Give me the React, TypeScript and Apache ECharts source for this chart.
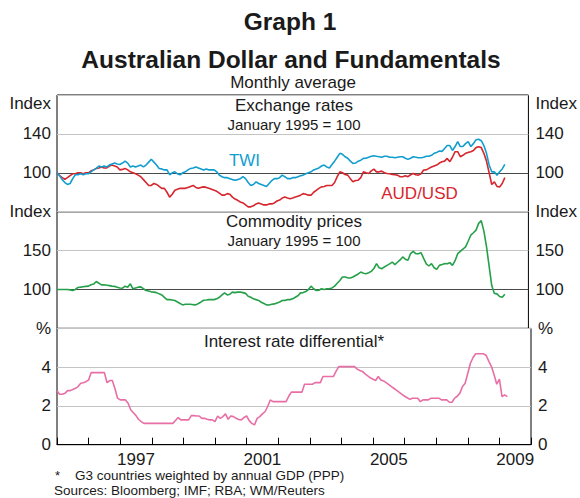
import React, { useEffect, useRef } from "react";
import * as echarts from "echarts";

const START_YEAR = 1995;

// Monthly values, Jan 1995 – Apr 2009
const twi = [
  100, 97, 93, 90, 88, 89, 94, 98, 98, 99, 98, 99,
  99, 101, 103, 104.5, 107, 106, 107, 106, 108, 109, 110, 109,
  108.6, 110, 112, 110, 106, 107, 106, 107, 108, 106, 108, 111,
  114, 111, 108, 104.5, 104, 103, 103, 98, 100, 101, 99, 98,
  100, 101, 103, 104.5, 105, 106, 105, 104, 103, 104, 103, 103,
  103, 101, 97.6, 96, 95, 95, 94, 93, 92.4, 93, 94, 96,
  94, 90, 87, 88, 90.7, 89, 88, 87, 86, 89, 92, 94,
  94, 95, 97.6, 96, 94, 94, 95, 95, 96, 97, 97.6, 99,
  100, 101, 103, 104, 105, 107, 108, 106, 105, 108.6, 112, 116,
  120, 119, 116.5, 115, 112, 109.7, 110, 112, 113, 114.8, 115, 116,
  117, 117.6, 117, 116.5, 116, 117, 117, 116, 116, 115.5, 116, 116.5,
  116.5, 115, 113.8, 115, 116.5, 116, 115.5, 115.5, 116, 117, 117, 118,
  120, 121, 122.4, 122, 125, 128, 128, 123, 127, 132, 127, 127,
  130, 132, 127, 130, 134, 134.5, 133, 128, 120, 108, 101, 101,
  97.6, 101, 104, 108.6,
];

const audUsd = [
  100, 97, 95, 93.4, 95, 97, 99, 99, 100, 100, 99, 100,
  100, 102, 103, 104.5, 105, 106, 105, 105, 107, 108, 107, 106,
  103, 103.5, 104.5, 103, 101, 100, 99, 97.6, 96, 93, 90, 87,
  87, 89, 88, 86, 84, 84, 80, 75, 78, 82, 83, 84,
  84, 84, 85, 86, 87, 85, 84, 85, 85.5, 85, 84, 83,
  82, 81, 79, 77, 77, 78.6, 78, 75, 73, 71.7, 70, 69,
  67, 65, 65, 66, 68, 69, 68, 67, 67, 68, 68, 69,
  71, 72, 74, 75, 74, 73.4, 74, 75, 76, 77, 78.6, 78,
  77, 77, 80, 82, 84, 85.5, 86, 87, 87, 87, 90, 96,
  101, 100, 98.3, 97.6, 94, 90.7, 92, 92.4, 95, 101, 100, 99.3,
  102, 103.8, 101, 101, 101.7, 100, 99.3, 99, 98.3, 98, 97.6, 96,
  96, 97, 96, 98, 99.3, 98, 97.6, 99, 102.8, 103, 104.5, 106,
  107, 108, 110, 111.4, 112, 114.8, 111.4, 116, 121.7, 121.7, 116.5, 118,
  120, 121, 121.7, 123, 125.9, 126.9, 125.9, 120, 112, 100, 88, 90.7,
  86, 85.5, 89, 95,
];

const commodity = [
  100, 100, 100, 100, 100, 99.5, 98.7, 100, 102.6, 103, 103.5, 104,
  104.3, 106, 107, 110.3, 108, 106, 106, 105.5, 105, 104.3, 104, 103,
  102, 101.7, 104.3, 103, 107.3, 100.9, 102, 103, 103.4, 101, 98.7, 98,
  97, 96.6, 96, 94.4, 93, 90, 87, 87, 86.5, 85.8, 84, 82,
  80.2, 81, 81, 81, 80.5, 80.2, 82, 84, 86.2, 86.5, 87, 87,
  87, 88, 90, 93, 95.7, 93, 94, 96.6, 96, 96.6, 96.6, 96,
  95, 91.4, 90, 88, 87, 86, 83.6, 82, 80.2, 80, 81, 81.5,
  82.8, 84, 85.8, 86, 87, 87, 88, 90, 92, 95.7, 96, 97.4,
  100, 104.3, 101, 98.7, 99, 100.9, 100, 100.9, 101, 102, 104.3, 108,
  111.6, 116, 116, 115, 114.7, 116, 118, 120, 122.4, 121, 120.3, 121.5,
  123.3, 127, 133.2, 128, 126.7, 129, 131, 133, 135.3, 131.9, 135, 138,
  141.8, 139, 137.5, 146, 149, 146, 146, 147.4, 140, 133, 130.2, 133.2,
  128, 125.9, 131, 132, 133.2, 133, 134.5, 131, 137, 146, 149, 152,
  154.7, 162, 169.8, 173, 176.3, 185, 188.5, 175, 155, 130, 105, 95,
  94.4, 91, 90, 94,
];

const interestDiff = [
  2.79, 2.6, 2.6, 2.65, 2.79, 2.79, 2.85, 2.91, 3.0, 3.17, 3.2, 3.25,
  3.34, 3.72, 3.72, 3.72, 3.72, 3.72, 3.72, 3.2, 3.31, 3.31, 2.9, 2.4,
  2.31, 2.31, 2.31, 2.14, 1.8, 1.65, 1.5, 1.3, 1.19, 1.1, 1.1, 1.1,
  1.1, 1.1, 1.1, 1.1, 1.1, 1.1, 1.1, 1.1, 1.1, 1.25, 1.4, 1.28,
  1.28, 1.28, 1.28, 1.5, 1.5, 1.48, 1.48, 1.36, 1.36, 1.31, 1.28, 1.28,
  1.19, 1.48, 1.36, 1.45, 1.59, 1.31, 1.48, 1.45, 1.36, 1.3, 1.28, 1.4,
  1.48, 1.24, 1.1, 1.02, 1.36, 1.45, 1.59, 1.7, 1.97, 2.31, 2.22, 2.22,
  2.22, 2.22, 2.22, 2.22, 2.5, 2.71, 2.71, 2.71, 2.71, 2.71, 3.12, 3.12,
  3.12, 3.12, 3.2, 3.2, 3.2, 3.52, 3.52, 3.52, 3.52, 3.52, 3.8, 4.03,
  4.03, 4.03, 4.03, 4.03, 4.03, 4.03, 3.9, 3.83, 3.78, 3.65, 3.55, 3.45,
  3.38, 3.31, 3.52, 3.34, 3.29, 3.2, 3.1, 3.0, 2.9, 2.8, 2.7, 2.6,
  2.5, 2.42, 2.34, 2.4, 2.4, 2.4, 2.22, 2.31, 2.31, 2.31, 2.4, 2.4,
  2.4, 2.4, 2.31, 2.31, 2.31, 2.19, 2.19, 2.4, 2.5, 2.66, 3.0, 3.17,
  3.69, 4.2, 4.5, 4.69, 4.69, 4.69, 4.69, 4.6, 4.3, 4.03, 3.6, 3.12,
  3.38, 2.48, 2.57, 2.48,
];

const labelYears = [1997, 2001, 2005, 2009];

const FONT = "'Liberation Sans', Arial, Helvetica, sans-serif";
const TEXT = "#1a1a1a";
const C_TWI = "#119ecf";
const C_AUD = "#d6262e";
const C_COM = "#25a049";
const C_INT = "#e86fa5";
const GRIDLINE = "#c4c4c4";

const toPairs = (vals: number[]) =>
  vals.map((v, i) => [START_YEAR + i / 12, v]);

export default function App() {
  const ref = useRef<HTMLDivElement>(null);

  useEffect(() => {
    if (!ref.current) return;
    const chart = echarts.init(ref.current, null, { renderer: "svg" });

    const axisLabelBase = {
      fontSize: 17,
      color: TEXT,
      fontFamily: FONT,
    };

    const mkY = (
      grid: number,
      pos: "left" | "right",
      min: number,
      max: number,
      interval: number,
      unit: string,
      splitColors: string[] | null,
      topShift: boolean
    ) => ({
      type: "value",
      gridIndex: grid,
      position: pos,
      min,
      max,
      interval,
      axisLine: { show: false },
      axisTick: { show: false },
      splitLine: splitColors
        ? { show: true, lineStyle: { color: splitColors, width: 1 } }
        : { show: false },
      axisLabel: {
        ...axisLabelBase,
        margin: pos === "left" ? 6 : 7,
        formatter: (v: number) => {
          if (v === max) return topShift ? "{u|" + unit + "}" : unit;
          if (v === min && grid < 2) return "";
          return String(v);
        },
        rich: {
          u: { ...axisLabelBase, padding: [16, 0, 0, 0] },
        },
      },
    });

    const hiddenX = (grid: number) => ({
      type: "value",
      gridIndex: grid,
      min: 1995,
      max: 2010,
      interval: 1,
      axisLine: { show: false },
      axisTick: { show: false },
      axisLabel: { show: false },
      splitLine: { show: false },
    });

    const txt = (
      x: number,
      y: number,
      text: string,
      size: number,
      opts: any = {}
    ) => ({
      type: "text",
      x,
      y,
      silent: true,
      style: {
        text,
        fill: opts.fill || TEXT,
        font: `${opts.bold ? "bold " : ""}${size}px ${FONT}`,
        textAlign: opts.align || "center",
        textVerticalAlign: "middle",
      },
    });

    const option = {
      animation: false,
      backgroundColor: "#fff",
      grid: [
        { left: 57, right: 49, top: 95, height: 116.7, show: true, borderColor: "#000", borderWidth: 1, backgroundColor: "transparent" },
        { left: 57, right: 49, top: 211.7, height: 116.7, show: true, borderColor: "#000", borderWidth: 1, backgroundColor: "transparent" },
        { left: 57, right: 49, top: 328.4, height: 116.3, show: true, borderColor: "#000", borderWidth: 1, backgroundColor: "transparent" },
      ],
      xAxis: [
        hiddenX(0),
        hiddenX(1),
        {
          type: "value",
          gridIndex: 2,
          min: 1995,
          max: 2010,
          interval: 1,
          axisLine: { show: true, lineStyle: { color: "#000", width: 1 } },
          axisTick: { show: true, inside: true, length: 7, lineStyle: { color: "#000", width: 1 } },
          axisLabel: { show: false },
          splitLine: { show: false },
        },
        {
          type: "value",
          gridIndex: 2,
          position: "bottom",
          min: 1995,
          max: 2010,
          interval: 0.5,
          axisLine: { show: false },
          axisTick: { show: false },
          splitLine: { show: false },
          axisLabel: {
            ...axisLabelBase,
            margin: 6,
            showMinLabel: true,
            showMaxLabel: true,
            formatter: (v: number) => {
              const y = Math.floor(v);
              return Math.abs(v - y - 0.5) < 1e-6 && labelYears.includes(y)
                ? String(y)
                : "";
            },
          },
        },
      ],
      yAxis: [
        mkY(0, "left", 60, 180, 40, "Index", [GRIDLINE, "#4a4a4a", GRIDLINE, GRIDLINE], true),
        mkY(0, "right", 60, 180, 40, "Index", null, true),
        mkY(1, "left", 50, 200, 50, "Index", [GRIDLINE, "#4a4a4a", GRIDLINE, GRIDLINE], false),
        mkY(1, "right", 50, 200, 50, "Index", null, false),
        mkY(2, "left", 0, 6, 2, "%", [GRIDLINE, GRIDLINE, GRIDLINE, GRIDLINE], false),
        mkY(2, "right", 0, 6, 2, "%", null, false),
      ],
      series: [
        {
          name: "TWI",
          type: "line",
          xAxisIndex: 0,
          yAxisIndex: 0,
          data: toPairs(twi),
          showSymbol: false,
          symbol: "none",
          lineStyle: { color: C_TWI, width: 1.6 },
          z: 3,
        },
        {
          name: "AUD/USD",
          type: "line",
          xAxisIndex: 0,
          yAxisIndex: 0,
          data: toPairs(audUsd),
          showSymbol: false,
          symbol: "none",
          lineStyle: { color: C_AUD, width: 1.6 },
          z: 2,
        },
        {
          name: "Commodity prices",
          type: "line",
          xAxisIndex: 1,
          yAxisIndex: 2,
          data: toPairs(commodity),
          showSymbol: false,
          symbol: "none",
          lineStyle: { color: C_COM, width: 1.6 },
        },
        {
          name: "Interest rate differential",
          type: "line",
          xAxisIndex: 2,
          yAxisIndex: 4,
          data: toPairs(interestDiff),
          showSymbol: false,
          symbol: "none",
          lineStyle: { color: C_INT, width: 1.6 },
        },
      ],
      graphic: [
        txt(290, 21, "Graph 1", 24.5, { bold: true }),
        txt(291, 59, "Australian Dollar and Fundamentals", 24.5, { bold: true }),
        txt(293, 82, "Monthly average", 17),
        txt(294, 105, "Exchange rates", 17),
        txt(294, 124, "January 1995 = 100", 15),
        txt(294, 221, "Commodity prices", 17),
        txt(294, 240, "January 1995 = 100", 15),
        txt(294, 341, "Interest rate differential*", 17),
        txt(244.5, 160, "TWI", 17, { fill: C_TWI }),
        txt(419.5, 193.5, "AUD/USD", 17, { fill: C_AUD }),
        txt(55, 475, "*", 13, { align: "left" }),
        txt(75, 475, "G3 countries weighted by annual GDP (PPP)", 13.5, { align: "left" }),
        txt(54, 490, "Sources: Bloomberg; IMF; RBA; WM/Reuters", 13.5, { align: "left" }),
      ],
    };

    chart.setOption(option as any);
    return () => chart.dispose();
  }, []);

  return (
    <div
      ref={ref}
      style={{ position: "fixed", left: 0, top: 0, width: 580, height: 498 }}
    />
  );
}
